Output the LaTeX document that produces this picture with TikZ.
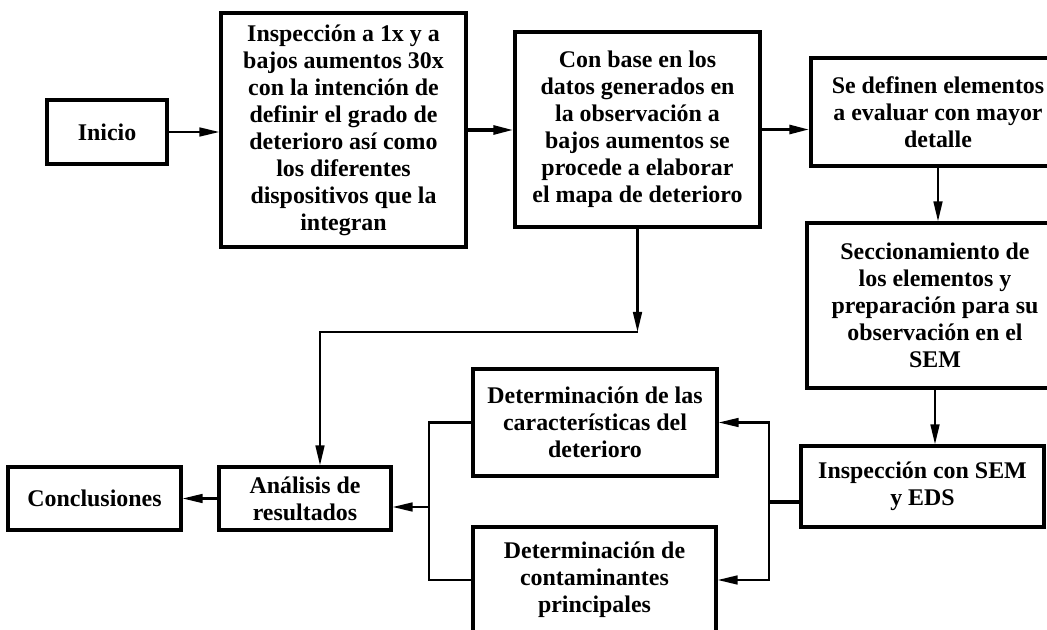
\documentclass[tikz,border=0pt]{standalone}
\usepackage{fontspec}
\setmainfont{Liberation Serif}
\usetikzlibrary{arrows.meta}

\tikzset{
  box/.style={draw, line width=2.3pt, inner sep=0pt, align=center,
    font=\bfseries\fontsize{17}{19.2}\selectfont},
  boxsize/.style 2 args={minimum width=#1*0.025cm, minimum height=#2*0.025cm},
  link/.style={line width=1.6pt},
  thicklink/.style={line width=2.3pt},
  tip/.style={-{Triangle[length=5mm,width=2.2mm]}},
}

\begin{document}
\begin{tikzpicture}[x=0.025cm,y=-0.025cm]
\useasboundingbox[fill=white] (0,0) rectangle (1047,630);

% nodes
\node (inicio) [box,boxsize={120}{64}] at (107,132) {Inicio};
\node (insp) [box,boxsize={245}{234}] at (343.5,130) {Inspección a 1x y a\\ bajos aumentos 30x\\ con la intención de\\ definir el grado de\\ deterioro así como\\ los diferentes\\ dispositivos que la\\ integran};
\node (base) [box,boxsize={245}{195}] at (637.5,129.5) {Con base en los\\ datos generados en\\ la observación a\\ bajos aumentos se\\ procede a elaborar\\ el mapa de deterioro};
\node (define) [box,boxsize={254}{108}] at (938,112) {Se definen elementos\\ a evaluar con mayor\\ detalle};
\node (secc) [box,boxsize={256}{165}] at (935,305.5) {Seccionamiento de\\ los elementos y\\ preparación para su\\ observación en el\\ SEM};
\node (sem) [box,boxsize={243}{81}] at (922.5,486.5) {Inspección con SEM\\ y EDS};
\node (caract) [box,boxsize={244}{107}] at (595,422.5) {Determinación de las\\ características del\\ deterioro};
\node (contam) [box,boxsize={243}{106}] at (594.5,580) {Determinación de\\ contaminantes\\ principales};
\node (analisis) [box,boxsize={172}{63}] at (305,498.5) {Análisis de\\ resultados};
\node (concl) [box,boxsize={173}{63}] at (94.5,498.5) {Conclusiones};

% junctions
\coordinate (bend) at (637.5,332);
\coordinate (drop) at (320,332);
\coordinate (semin) at (769,502);
\coordinate (join) at (429,507);

% arrows
\draw[link,tip] (inicio.east) -- (inicio.east -| insp.west);
\draw[thicklink,tip] (insp.east) -- (insp.east -| base.west);
\draw[thicklink,tip] (base.east) -- (base.east -| define.west);
\draw[link,tip] (define.south) -- (define.south |- secc.north);
\draw[link,tip] (secc.south) -- (secc.south |- sem.north);
\draw[link,tip] (base.south) -- (bend);
\draw[link,tip] (bend) -- (drop) -- (drop |- analisis.north);
\draw[thicklink] (sem.west |- semin) -- (semin);
\draw[link,tip] (semin) |- (caract.east);
\draw[link,tip] (semin) |- (contam.east);
\draw[link] (caract.west) -| (join);
\draw[link] (contam.west) -| (join);
\draw[link,tip] (join) -- (join -| analisis.east);
\draw[link,tip] (analisis) -- (concl);
\end{tikzpicture}
\end{document}
